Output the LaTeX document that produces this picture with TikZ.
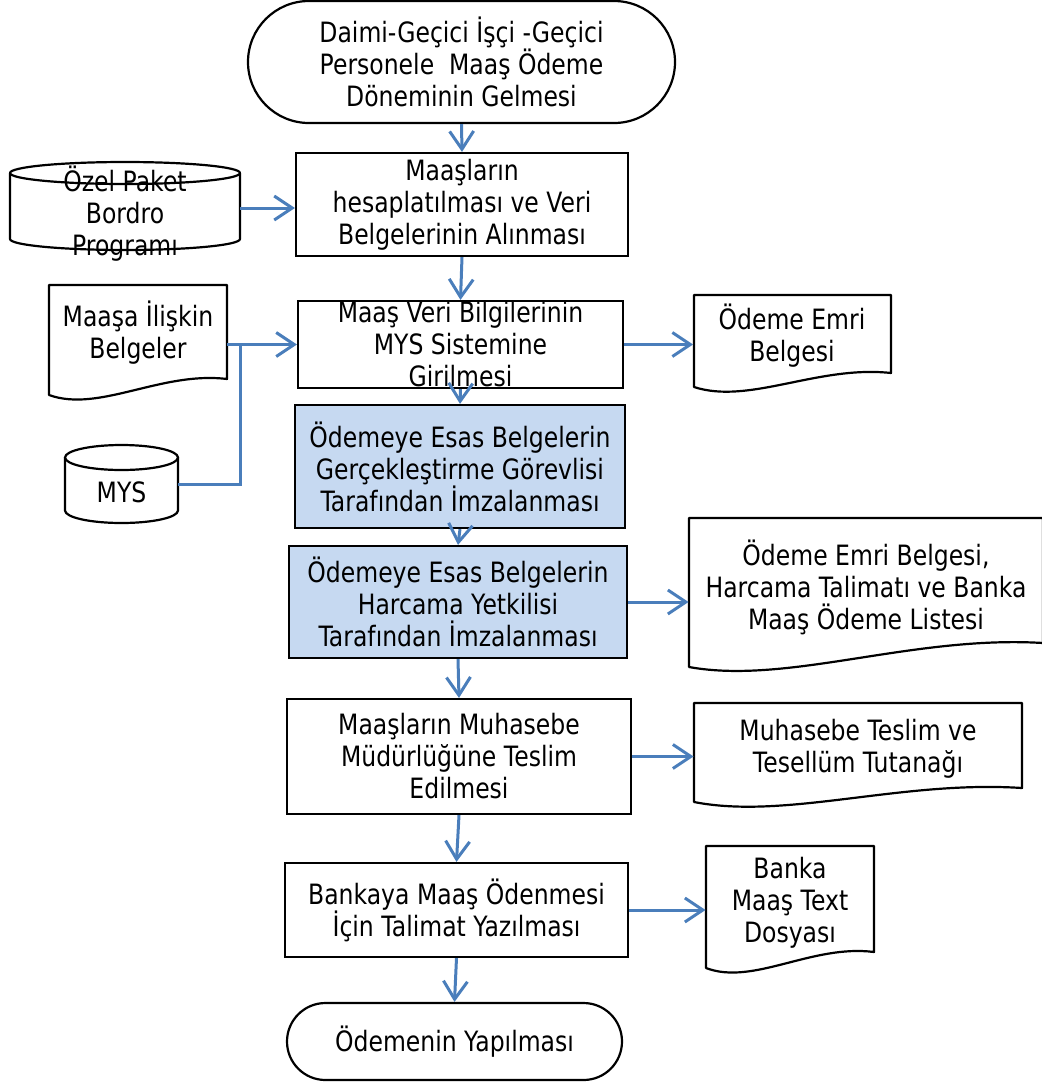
\documentclass[tikz,border=0pt]{standalone}
\usepackage{fontspec}
\setmainfont{DejaVu Sans}[FakeStretch=0.84]
\usetikzlibrary{arrows.meta,shapes.misc,calc}
\definecolor{flowblue}{HTML}{4A7EBB}
\definecolor{signfill}{HTML}{C6D9F1}
\tikzset{
  every node/.style={font=\fontsize{14}{16}\selectfont, align=center, inner sep=0pt},
  process/.style={draw, line width=1.1pt, rectangle},
  terminal/.style={draw, line width=1.1pt, rounded rectangle},
  docline/.style={line width=1.1pt, line join=round},
  link/.style={draw=flowblue, line width=1.5pt},
  flow/.style={link, -{Straight Barb[length=9pt,width=12pt]}}
}

\begin{document}
\begin{tikzpicture}[x=0.5pt,y=0.5pt]
\useasboundingbox (0,0) rectangle (1041,-1083);
%main column
\node[terminal, minimum width=213.5pt, minimum height=61pt] (start) at (461.5,-62)
  {Daimi-Geçici İşçi -Geçici\\Personele~ Maaş Ödeme\\Döneminin Gelmesi};
\node[process, minimum width=166pt, minimum height=51.5pt] (hesap) at (462,-204.5)
  {Maaşların\\hesaplatılması ve Veri\\Belgelerinin Alınması};
\node[process, minimum width=162.5pt, minimum height=43.5pt, inner ysep=-2.5pt] (veri) at (460.5,-344.5)
  {Maaş Veri Bilgilerinin\\MYS Sistemine\\Girilmesi};
\node[process, fill=signfill, minimum width=165pt, minimum height=61.5pt] (gorevli) at (460,-466.5)
  {Ödemeye Esas Belgelerin\\Gerçekleştirme Görevlisi\\Tarafından İmzalanması};
\node[process, fill=signfill, minimum width=169pt, minimum height=56pt] (yetkili) at (458,-602)
  {Ödemeye Esas Belgelerin\\Harcama Yetkilisi\\Tarafından İmzalanması};
\node[process, minimum width=172pt, minimum height=57.5pt] (teslim) at (459,-756.5)
  {Maaşların Muhasebe\\Müdürlüğüne Teslim\\Edilmesi};
\node[process, minimum width=171.5pt, minimum height=47pt] (talimat) at (456.5,-910)
  {Bankaya Maaş Ödenmesi\\İçin Talimat Yazılması};
\node[terminal, minimum width=167.5pt, minimum height=38.5pt] (odeme) at (454.5,-1041.5)
  {Ödemenin Yapılması};
%cylinders
\draw[docline](10,-173)--(10,-239) arc[start angle=180,end angle=360,x radius=115,y radius=11]--(240,-173);
\draw[docline](125,-173) ellipse[x radius=115,y radius=11];
\draw[docline](65,-457.5)--(65,-510.5) arc[start angle=180,end angle=360,x radius=56.5,y radius=12.5]--(178,-457.5);
\draw[docline](121.5,-457.5) ellipse[x radius=56.5,y radius=12.5];
%documents
\draw[docline](49,-395)--(49,-285)--(227,-285)--(227,-379) .. controls (161,-371) and (99,-413) .. (49,-395)--cycle;
\draw[docline](694,-387)--(694,-295)--(891,-295)--(891,-373) .. controls (818,-365) and (749,-405) .. (694,-387)--cycle;
\draw[docline](689,-667)--(689,-518)--(1043,-518)--(1043,-643) .. controls (912,-635) and (788,-685) .. (689,-667)--cycle;
\draw[docline](694,-802)--(694,-703)--(1022,-703)--(1022,-788) .. controls (901,-780) and (786,-820) .. (694,-802)--cycle;
\draw[docline](706,-968)--(706,-846)--(874,-846)--(874,-952) .. controls (812,-944) and (753,-986) .. (706,-968)--cycle;
%labels of the side shapes
\node[minimum width=115pt] (bordro) at (125,-214) {Özel Paket\\Bordro\\Programı};
\node[minimum width=56.5pt] (mys) at (121.5,-492) {MYS};
\node[minimum width=89pt] (belge) at (138,-333) {Maaşa İlişkin\\Belgeler};
\node[minimum width=98.5pt] (emri) at (792,-336) {Ödeme Emri\\Belgesi};
\node[minimum width=177pt] (liste) at (866,-587) {Ödeme Emri Belgesi,\\Harcama Talimatı ve Banka\\Maaş Ödeme Listesi};
\node[minimum width=164pt] (tutanak) at (858,-749) {Muhasebe Teslim ve\\Tesellüm Tutanağı};
\node[minimum width=84pt] (text) at (790,-903) {Banka\\Maaş Text\\Dosyası};
%arrows
\draw[flow](start.south)--(hesap.north);
\draw[flow](hesap.south)--(veri.north);
\draw[flow](veri.south)--(gorevli.north);
\draw[flow](gorevli.south)--(yetkili.north);
\draw[flow](yetkili.south)--(teslim.north);
\draw[flow](teslim.south)--(talimat.north);
\draw[flow](talimat.south)--(odeme.north);
\draw[flow]([yshift=3pt]bordro.east)--([yshift=3pt]bordro.east -| hesap.west);
\coordinate (join) at (240,-344.5);
\draw[flow](belge.east |- veri.west)--(veri.west);
\draw[link]([yshift=4pt]mys.east)-|(join);
\draw[flow](veri.east)--(veri.east -| emri.west);
\draw[flow](yetkili.east)--(yetkili.east -| liste.west);
\draw[flow](teslim.east)--(teslim.east -| tutanak.west);
\draw[flow](talimat.east)--(talimat.east -| text.west);
\end{tikzpicture}
\end{document}
